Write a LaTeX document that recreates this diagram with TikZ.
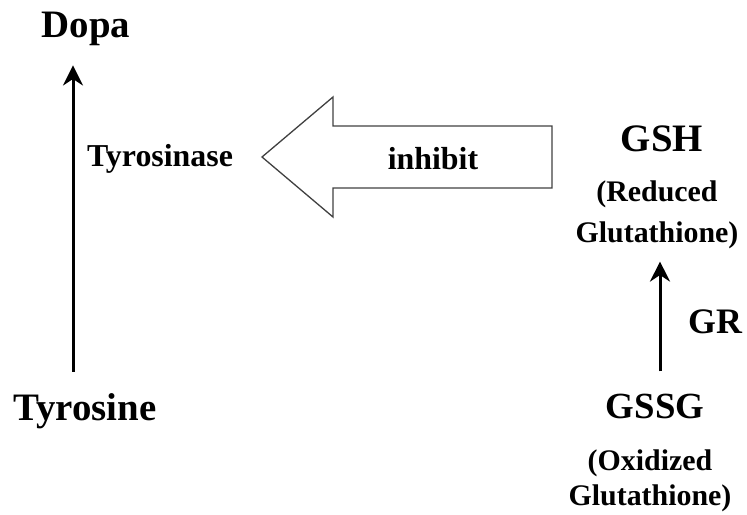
\documentclass[tikz,border=0pt]{standalone}
\usepackage{fontspec}
\setmainfont{Liberation Serif}
\usetikzlibrary{arrows.meta}

\begin{document}
\begin{tikzpicture}[x=1bp, y=-1bp, >={Stealth[length=20bp, width=20bp]},
  mol/.style={font=\bfseries\fontsize{39}{40}\selectfont, inner sep=0pt, anchor=base},
  small/.style={font=\bfseries\fontsize{31}{40}\selectfont, inner sep=0pt, anchor=base, align=center},
  path/.style={->, line width=3bp}]
  \useasboundingbox (0,0) rectangle (747,515);

  \node[mol] (dopa) at (86,38) {Dopa};
  \node[mol] (tyr) at (85,420) {Tyrosine};
  \node[small, font=\bfseries\fontsize{32}{40}\selectfont] (tase) at (160,167) {Tyrosinase};

  \node[mol] (gsh) at (662,152) {GSH};
  \node[small, font=\bfseries\fontsize{30}{42}\selectfont] (red) at (657,243) {(Reduced\\Glutathione)};
  \node[mol, font=\bfseries\fontsize{36}{40}\selectfont] (gr) at (715,333) {GR};
  \node[mol, font=\bfseries\fontsize{37}{40}\selectfont] (gssg) at (655,418) {GSSG};
  \node[small, font=\bfseries\fontsize{30}{35}\selectfont] (ox) at (650,505) {(Oxidized\\Glutathione)};

  % tyrosine -> dopa, glutathione reduction
  \draw[path, shorten <=21bp, shorten >=19bp] ([xshift=-12bp]tyr.north) -- ([xshift=-12bp]tyr.north |- dopa.south);
  \draw[path, shorten <=22bp, shorten >=12bp] ([xshift=5bp]gssg.north) -- ([xshift=5bp]gssg.north |- red.south);

  % inhibition arrow
  \draw[line width=1.3bp, black!75] (262,157) -- (333,97) -- (333,126) -- (552,126)
    -- (552,188) -- (333,188) -- (333,217) -- cycle;
  \node[small, font=\bfseries\fontsize{32}{40}\selectfont] (inh) at (433,170) {inhibit};
\end{tikzpicture}
\end{document}
